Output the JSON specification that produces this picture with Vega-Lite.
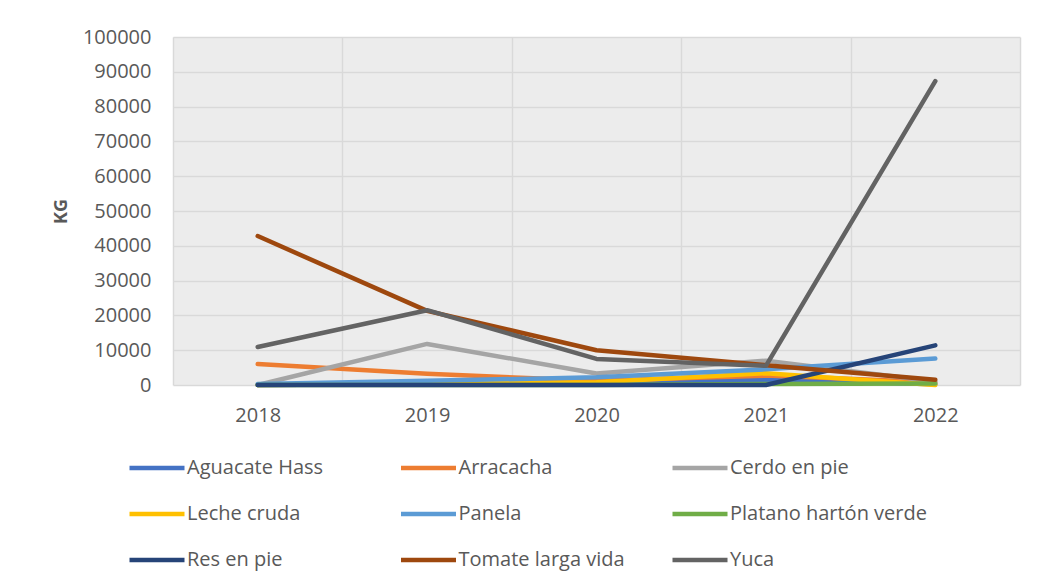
{
  "$schema": "https://vega.github.io/schema/vega-lite/v6.json",
  "autosize": "none",
  "width": 847,
  "height": 348,
  "padding": {"left": 173, "top": 37, "right": 18, "bottom": 203},
  "background": "white",
  "config": {
    "font": "Open Sans",
    "view": {"fill": "#ececec", "stroke": null}
  },
  "data": {
    "values": [
      {"year": "2018", "serie": "Aguacate Hass", "kg": 0},
      {"year": "2019", "serie": "Aguacate Hass", "kg": 300},
      {"year": "2020", "serie": "Aguacate Hass", "kg": 600},
      {"year": "2021", "serie": "Aguacate Hass", "kg": 1500},
      {"year": "2022", "serie": "Aguacate Hass", "kg": 200},
      {"year": "2018", "serie": "Arracacha", "kg": 6000},
      {"year": "2019", "serie": "Arracacha", "kg": 3200},
      {"year": "2020", "serie": "Arracacha", "kg": 1200},
      {"year": "2021", "serie": "Arracacha", "kg": 2700},
      {"year": "2022", "serie": "Arracacha", "kg": 800},
      {"year": "2018", "serie": "Cerdo en pie", "kg": 0},
      {"year": "2019", "serie": "Cerdo en pie", "kg": 11800},
      {"year": "2020", "serie": "Cerdo en pie", "kg": 3300},
      {"year": "2021", "serie": "Cerdo en pie", "kg": 7000},
      {"year": "2022", "serie": "Cerdo en pie", "kg": 1000},
      {"year": "2018", "serie": "Leche cruda", "kg": 0},
      {"year": "2019", "serie": "Leche cruda", "kg": 300},
      {"year": "2020", "serie": "Leche cruda", "kg": 800},
      {"year": "2021", "serie": "Leche cruda", "kg": 3400},
      {"year": "2022", "serie": "Leche cruda", "kg": 0},
      {"year": "2018", "serie": "Panela", "kg": 300},
      {"year": "2019", "serie": "Panela", "kg": 1200},
      {"year": "2020", "serie": "Panela", "kg": 2200},
      {"year": "2021", "serie": "Panela", "kg": 4500},
      {"year": "2022", "serie": "Panela", "kg": 7600},
      {"year": "2018", "serie": "Platano hartón verde", "kg": 0},
      {"year": "2019", "serie": "Platano hartón verde", "kg": 0},
      {"year": "2020", "serie": "Platano hartón verde", "kg": 0},
      {"year": "2021", "serie": "Platano hartón verde", "kg": 300},
      {"year": "2022", "serie": "Platano hartón verde", "kg": 400},
      {"year": "2018", "serie": "Res en pie", "kg": 0},
      {"year": "2019", "serie": "Res en pie", "kg": 0},
      {"year": "2020", "serie": "Res en pie", "kg": 0},
      {"year": "2021", "serie": "Res en pie", "kg": 0},
      {"year": "2022", "serie": "Res en pie", "kg": 11400},
      {"year": "2018", "serie": "Tomate larga vida", "kg": 42800},
      {"year": "2019", "serie": "Tomate larga vida", "kg": 21300},
      {"year": "2020", "serie": "Tomate larga vida", "kg": 10000},
      {"year": "2021", "serie": "Tomate larga vida", "kg": 5700},
      {"year": "2022", "serie": "Tomate larga vida", "kg": 1500},
      {"year": "2018", "serie": "Yuca", "kg": 10900},
      {"year": "2019", "serie": "Yuca", "kg": 21500},
      {"year": "2020", "serie": "Yuca", "kg": 7500},
      {"year": "2021", "serie": "Yuca", "kg": 5500},
      {"year": "2022", "serie": "Yuca", "kg": 87300}
    ]
  },
  "mark": {"type": "line", "strokeWidth": 4.5, "strokeCap": "round", "strokeJoin": "round"},
  "encoding": {
    "x": {
      "field": "year",
      "type": "ordinal",
      "scale": {"type": "band", "paddingInner": 0, "paddingOuter": 0},
      "axis": {
        "title": null,
        "labelAngle": 0,
        "labelFontSize": 20,
        "labelColor": "#595959",
        "labelPadding": 20,
        "domain": false,
        "ticks": false,
        "grid": true,
        "tickBand": "extent",
        "gridColor": "#d9d9d9",
        "gridWidth": 1.5
      }
    },
    "y": {
      "field": "kg",
      "type": "quantitative",
      "scale": {"domain": [0, 100000]},
      "axis": {
        "title": "KG",
        "titleFontSize": 18,
        "titleFontWeight": "bold",
        "titleColor": "#595959",
        "titlePadding": 12,
        "values": [0, 10000, 20000, 30000, 40000, 50000, 60000, 70000, 80000, 90000, 100000],
        "format": "d",
        "labelFontSize": 20,
        "labelColor": "#595959",
        "labelPadding": 22,
        "domain": false,
        "ticks": false,
        "gridColor": "#d9d9d9",
        "gridWidth": 1.5
      }
    },
    "color": {
      "field": "serie",
      "type": "nominal",
      "scale": {
        "domain": ["Aguacate Hass", "Arracacha", "Cerdo en pie", "Leche cruda", "Panela", "Platano hartón verde", "Res en pie", "Tomate larga vida", "Yuca"],
        "range": ["#4472C4", "#ED7D31", "#A5A5A5", "#FFC000", "#5B9BD5", "#70AD47", "#264478", "#9E480E", "#636363"]
      },
      "legend": {
        "title": null,
        "orient": "none",
        "legendX": -46,
        "legendY": 401,
        "direction": "horizontal",
        "columns": 3,
        "gridAlign": "all",
        "columnPadding": 7.5,
        "rowPadding": 6,
        "symbolType": "stroke",
        "symbolSize": 3025,
        "symbolStrokeWidth": 4.5,
        "labelFontSize": 20,
        "labelColor": "#595959",
        "labelOffset": 0,
        "labelLimit": 400
      }
    }
  }
}
